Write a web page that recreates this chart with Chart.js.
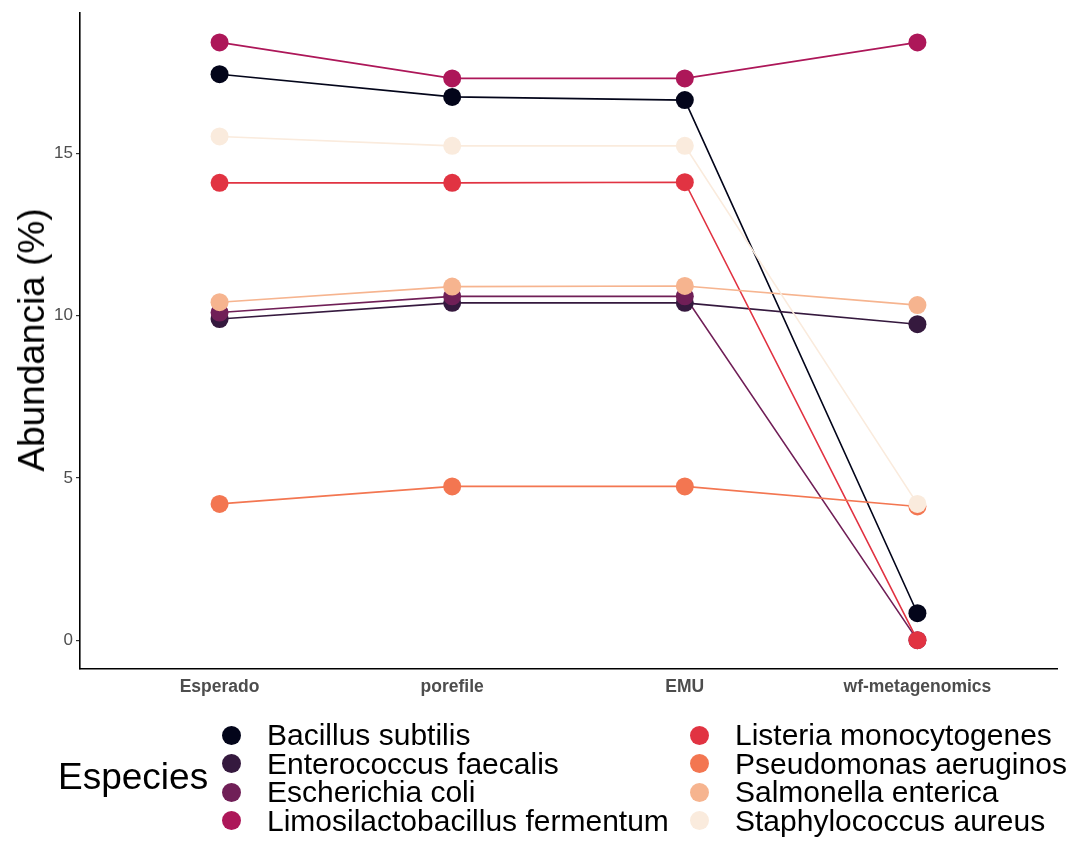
<!DOCTYPE html>
<html>
<head>
<meta charset="utf-8">
<script src="https://cdn.jsdelivr.net/npm/chart.js@4/dist/chart.umd.min.js"></script>
<style>
    html, body { margin: 0; padding: 0; background: #fff; }
    #wrap { position: relative; width: 1071px; height: 841px; font-family: "Liberation Sans", Arial, sans-serif; }
    #abund-chart { position: absolute; left: 0; top: 0; }
    .y-title { position: absolute; left: 32px; top: 340px; transform: translate(-50%, -50%) rotate(-90deg); font-size: 37px; color: #000; white-space: nowrap; }
    .legend-title { position: absolute; left: 58px; top: 756px; font-size: 37px; color: #000; }
    .legend-col { position: absolute; top: 721px; }
    .legend-item { height: 28.5px; display: flex; align-items: center; font-size: 30px; color: #000; white-space: nowrap; }
    .legend-dot { width: 19px; height: 19px; border-radius: 50%; margin-right: 26px; flex: none; }
</style>
</head>
<body>
<div id="wrap">
    <canvas id="abund-chart" width="1071" height="841"></canvas>
    <div class="y-title">Abundancia (%)</div>
    <div class="legend-title">Especies</div>
    <div class="legend-col" id="legend-left" style="left: 222px;"></div>
    <div class="legend-col" id="legend-right" style="left: 690px;"></div>
</div>
<script>
// Methods on the x axis
const methods = ['Esperado', 'porefile', 'EMU', 'wf-metagenomics'];

const species = [
    'Bacillus subtilis',
    'Enterococcus faecalis',
    'Escherichia coli',
    'Limosilactobacillus fermentum',
    'Listeria monocytogenes',
    'Pseudomonas aeruginos',
    'Salmonella enterica',
    'Staphylococcus aureus'
];

// rocket palette, 8 steps
const colors = ['#03051A', '#35193E', '#701F57', '#AD1759', '#E13342', '#F37651', '#F6B48F', '#FAEBDD'];

// abundance (%) per method, same order as methods
const bacillus = [17.45, 16.75, 16.65, 0.83];
const enterococcus = [9.9, 10.4, 10.4, 9.74];
const escherichia = [10.1, 10.6, 10.6, 0.0];
const limosilactobacillus = [18.43, 17.32, 17.32, 18.43];
const listeria = [14.1, 14.1, 14.12, 0.0];
const pseudomonas = [4.2, 4.74, 4.74, 4.12];
const salmonella = [10.42, 10.9, 10.92, 10.33];
const staphylococcus = [15.53, 15.24, 15.24, 4.2];

const series = [bacillus, enterococcus, escherichia, limosilactobacillus, listeria, pseudomonas, salmonella, staphylococcus];
const yTicks = [0, 5, 10, 15];

const toPoints = vals => vals.map((v, i) => ({ x: i + 1, y: v }));

// lines go underneath every point, later species drawn on top
const datasets = [];
series.forEach((vals, i) => {
    datasets.push({
        label: species[i] + ' line',
        data: toPoints(vals),
        borderColor: colors[i],
        borderWidth: 1.6,
        pointRadius: 0,
        fill: false,
        tension: 0,
        order: 100 + (series.length - 1 - i)
    });
});
series.forEach((vals, i) => {
    datasets.push({
        label: species[i],
        data: toPoints(vals),
        showLine: false,
        backgroundColor: colors[i],
        borderWidth: 0,
        pointRadius: 9,
        order: series.length - 1 - i
    });
});

const ctx = document.getElementById('abund-chart').getContext('2d');
new Chart(ctx, {
    type: 'line',
    data: { datasets },
    options: {
        responsive: false,
        animation: false,
        events: [],
        layout: { padding: { left: 0, right: 14, top: 10, bottom: 132 } },
        plugins: { legend: { display: false }, tooltip: { enabled: false } },
        scales: {
            x: {
                type: 'linear',
                min: 0.4,
                max: 4.6,
                afterBuildTicks: scale => { scale.ticks = methods.map((m, i) => ({ value: i + 1 })); },
                afterFit: scale => { scale.height = 40; },
                ticks: {
                    autoSkip: false,
                    maxRotation: 0,
                    padding: 0,
                    color: '#4D4D4D',
                    font: { family: 'Liberation Sans', size: 17.5, weight: 'bold' },
                    callback: v => methods[v - 1]
                },
                grid: { display: false },
                border: { display: true, color: '#000', width: 1.6 }
            },
            y: {
                type: 'linear',
                min: -0.89,
                max: 19.33,
                afterBuildTicks: scale => { scale.ticks = yTicks.map(v => ({ value: v })); },
                afterFit: scale => { scale.width = 80; },
                ticks: {
                    padding: 3,
                    color: '#4D4D4D',
                    font: { family: 'Liberation Sans', size: 17 },
                    callback: v => String(v)
                },
                grid: { drawOnChartArea: false, drawTicks: true, tickLength: 4, color: '#333', lineWidth: 1.2 },
                border: { display: true, color: '#000', width: 1.6 }
            }
        }
    }
});

// legend in two columns of four
function buildLegend(el, from, to) {
    el.innerHTML = species.slice(from, to).map((name, k) => `
        <div class="legend-item">
            <span class="legend-dot" style="background:${colors[from + k]}"></span>${name}
        </div>
    `).join('');
}
buildLegend(document.getElementById('legend-left'), 0, 4);
buildLegend(document.getElementById('legend-right'), 4, 8);
</script>
</body>
</html>
